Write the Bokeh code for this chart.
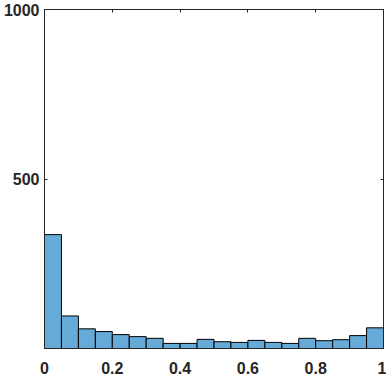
import numpy as np
from bokeh.plotting import figure
from bokeh.models import LinearAxis, FixedTicker, Range1d, CustomLabelingPolicy
from bokeh.embed import file_html
from bokeh.resources import INLINE

# Histogram data (20 bins from 0 to 1)
bin_edges = [0.0, 0.05, 0.1, 0.15, 0.2, 0.25, 0.3, 0.35, 0.4, 0.45, 0.5,
             0.55, 0.6, 0.65, 0.7, 0.75, 0.8, 0.85, 0.9, 0.95, 1.0]
counts = [336, 96, 58, 50, 41, 35, 30, 15, 15, 27,
          20, 18, 24, 18, 15, 30, 23, 26, 38, 61]

x_ticks = [0, 0.2, 0.4, 0.6, 0.8, 1]
x_tick_labels = ["0", "0.2", "0.4", "0.6", "0.8", "1"]
y_ticks = [500, 1000]
y_tick_labels = ["500", "1000"]

TEXT = "#262626"
FONT = "Liberation Sans"

p = figure(width=386, height=376, output_backend="svg", toolbar_location=None,
           x_range=Range1d(0, 1), y_range=Range1d(0, 1000),
           x_axis_type=None, y_axis_type=None,
           min_border_left=10, min_border_right=3, min_border_top=9, min_border_bottom=10)
p.xgrid.visible = False
p.ygrid.visible = False
p.outline_line_color = TEXT
p.outline_line_width = 1
p.background_fill_color = "white"
p.border_fill_color = "white"

p.quad(left=bin_edges[:-1], right=bin_edges[1:], bottom=0, top=counts,
       fill_color="#66AAD7", line_color="black", line_width=1)


def style(ax, labels=True):
    ax.axis_line_color = TEXT
    ax.major_tick_line_color = TEXT
    ax.major_tick_in = 3
    ax.major_tick_out = 0
    ax.minor_tick_in = 0
    ax.minor_tick_out = 0
    ax.minor_tick_line_color = None
    ax.major_label_text_font = FONT
    ax.major_label_text_font_style = "bold"
    ax.major_label_text_color = TEXT
    if labels:
        ax.major_label_text_font_size = "16px"
    else:
        ax.major_label_text_font_size = "0px"
        ax.major_label_standoff = 0
        ax.major_label_policy = CustomLabelingPolicy(
            code="for (const i of indices) { indices.unset(i) }\nreturn indices")


xb = LinearAxis(ticker=FixedTicker(ticks=x_ticks),
                major_label_overrides={t: l for t, l in zip(x_ticks, x_tick_labels)})
style(xb)
xb.major_label_standoff = 13
p.add_layout(xb, "below")

yl = LinearAxis(ticker=FixedTicker(ticks=y_ticks),
                major_label_overrides={t: l for t, l in zip(y_ticks, y_tick_labels)})
style(yl)
yl.major_label_standoff = 5
p.add_layout(yl, "left")

xt = LinearAxis(ticker=FixedTicker(ticks=x_ticks))
style(xt, labels=False)
p.add_layout(xt, "above")

yr = LinearAxis(ticker=FixedTicker(ticks=y_ticks))
style(yr, labels=False)
p.add_layout(yr, "right")

open("out.html", "w").write(file_html(p, INLINE))
